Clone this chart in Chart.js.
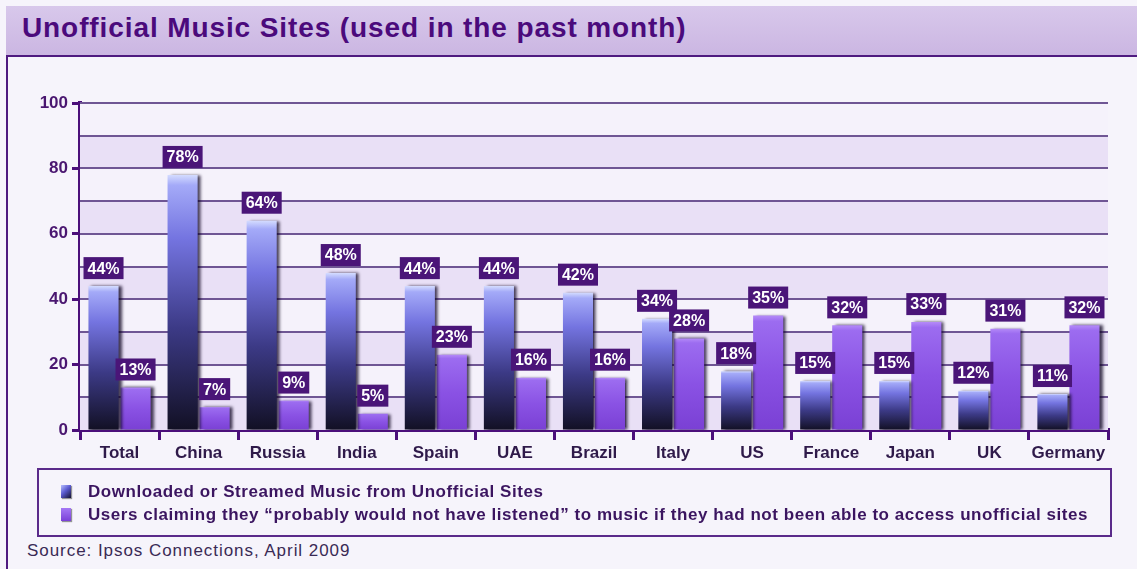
<!DOCTYPE html>
<html>
<head>
<meta charset="utf-8">
<script src="https://cdn.jsdelivr.net/npm/chart.js@4.4.0/dist/chart.umd.min.js"></script>
<style>
  html,body{margin:0;padding:0;}
  body{width:1137px;height:569px;position:relative;overflow:hidden;background:#f6f4fb;font-family:"Liberation Sans",Arial,sans-serif;}
  #titleBand{position:absolute;left:6px;top:6px;width:1131px;height:49px;background:linear-gradient(#d8c8eb,#cbb6e2);border-bottom:2px solid #4f1a80;}
  #title{position:absolute;left:22px;top:12px;font-size:28px;letter-spacing:0.9px;font-weight:bold;color:#4b0a7c;white-space:nowrap;}
  #leftBorder{position:absolute;left:6px;top:55px;width:2px;height:514px;background:#4f1a80;}
  #chartWrap{position:absolute;left:0;top:80px;width:1137px;height:390px;}
  #legend{position:absolute;left:37px;top:468px;width:1071px;height:65px;border:2px solid #5a2a8a;box-sizing:content-box;}
  .li{position:absolute;left:49px;font-size:17px;letter-spacing:0.55px;font-weight:bold;color:#3b1560;white-space:nowrap;}
  .sw{position:absolute;left:-27px;top:3px;width:10px;height:13px;box-shadow:1px 1px 1px rgba(0,0,0,0.4);}
  #source{position:absolute;left:27px;top:541px;font-size:17px;letter-spacing:0.95px;color:#3a2a55;white-space:nowrap;}
</style>
</head>
<body>
<div id="titleBand"></div>
<div id="title">Unofficial Music Sites (used in the past month)</div>
<div id="leftBorder"></div>
<div id="chartWrap"><canvas id="c" width="1137" height="390"></canvas></div>
<div id="legend">
  <div class="li" id="l1" style="top:12px"><span class="sw" style="background:linear-gradient(135deg,#b8c0ff 0%,#5a5ad0 45%,#141230 100%)"></span>Downloaded or Streamed Music from Unofficial Sites</div>
  <div class="li" id="l2" style="top:35px"><span class="sw" style="background:linear-gradient(#a578f5,#7a40d8)"></span>Users claiming they “probably would not have listened” to music if they had not been able to access unofficial sites</div>
</div>
<div id="source">Source: Ipsos Connections, April 2009</div>
<script>
const categories = ["Total","China","Russia","India","Spain","UAE","Brazil","Italy","US","France","Japan","UK","Germany"];
const downloaded = [44,78,64,48,44,44,42,34,18,15,15,12,11];
const wouldNotListen = [13,7,9,5,23,16,16,28,35,32,33,31,32];
const seriesNames = ["Downloaded or Streamed Music from Unofficial Sites","Users claiming they “probably would not have listened” to music if they had not been able to access unofficial sites"];
const yMax = 100;

function barGradient(ctx, stops){
  const chart = ctx.chart;
  if(!chart.chartArea) return stops[stops.length-1][1];
  const y = chart.scales.y;
  const v = ctx.raw;
  const top = y.getPixelForValue(v), bot = y.getPixelForValue(0);
  const g = chart.ctx.createLinearGradient(0, top, 0, bot);
  stops.forEach(s=>g.addColorStop(s[0], s[1]));
  return g;
}
const darkStops = [[0,'#d4dcff'],[0.04,'#a4aaf8'],[0.25,'#7474e0'],[0.6,'#3c3a86'],[1,'#121024']];
const purpStops = [[0,'#b48af8'],[0.05,'#9c6cf0'],[0.5,'#8a52e4'],[1,'#7a40d4']];

const bandsPlugin = {
  id:'bands',
  beforeDatasetsDraw(chart){
    const {ctx, chartArea:a, scales:{y}} = chart;
    ctx.save();
    for(let v=0; v<yMax; v+=10){
      const t = y.getPixelForValue(v+10), b = y.getPixelForValue(v);
      ctx.fillStyle = (v/10)%2===0 ? '#e9e0f6' : '#f5f2fb';
      ctx.fillRect(a.left, t, a.right-a.left, b-t);
    }
    ctx.strokeStyle = '#6f5694';
    ctx.lineWidth = 2;
    for(let v=10; v<=yMax; v+=10){
      const p = Math.round(y.getPixelForValue(v));
      ctx.beginPath(); ctx.moveTo(a.left, p); ctx.lineTo(a.right, p); ctx.stroke();
    }
    ctx.restore();
  }
};
const shadowPlugin = {
  id:'shadow',
  beforeDatasetsDraw(chart){
    const ctx = chart.ctx; ctx.save();
    ctx.shadowColor='rgba(10,0,30,0.75)'; ctx.shadowOffsetX=3; ctx.shadowOffsetY=0; ctx.shadowBlur=3;
  },
  afterDatasetsDraw(chart){ chart.ctx.restore(); }
};
const labelPlugin = {
  id:'boxLabels',
  afterDatasetsDraw(chart){
    const ctx = chart.ctx;
    ctx.save();
    ctx.font = 'bold 16px "Liberation Sans", Arial, sans-serif';
    ctx.textAlign='center'; ctx.textBaseline='middle';
    chart.data.datasets.forEach((ds, di)=>{
      const meta = chart.getDatasetMeta(di);
      meta.data.forEach((el, i)=>{
        const txt = ds.data[i] + '%';
        const w = ctx.measureText(txt).width + 8, h = 22;
        const bx = el.x - w/2, by = el.y - 7 - h;
        ctx.fillStyle = '#4a1578';
        ctx.fillRect(bx, by, w, h);
        ctx.fillStyle = '#ffffff';
        ctx.fillText(txt, el.x, by + h/2 + 1);
      });
    });
    ctx.restore();
  }
};

new Chart(document.getElementById('c'), {
  type:'bar',
  data:{
    labels:categories,
    datasets:[
      {label:seriesNames[0], data:downloaded, backgroundColor:(c)=>barGradient(c,darkStops), borderWidth:0},
      {label:seriesNames[1], data:wouldNotListen, backgroundColor:(c)=>barGradient(c,purpStops), borderWidth:0}
    ]
  },
  options:{
    responsive:false, animation:false,
    datasets:{bar:{categoryPercentage:0.81, barPercentage:0.94}},
    layout:{padding:{left:0,right:29,top:23,bottom:0}},
    plugins:{legend:{display:false}, tooltip:{enabled:false}},
    scales:{
      x:{
        afterFit(s){ s.height = 40; },
        grid:{drawOnChartArea:false, drawTicks:true, tickLength:10, color:'#4b0f7a', lineWidth:3, offset:true},
        border:{display:true, color:'#4b0f7a', width:4},
        ticks:{color:'#2f1a4a', font:{family:'"Liberation Sans", Arial, sans-serif', size:17, weight:'bold'}, padding:3, maxRotation:0, autoSkip:false}
      },
      y:{
        min:0, max:yMax,
        afterFit(s){ s.width = 80; },
        grid:{drawOnChartArea:false, drawTicks:true, tickLength:8, tickWidth:3,
              tickColor:(c)=> (c.tick && c.tick.value%20===0) ? '#4b0f7a' : 'rgba(0,0,0,0)'},
        border:{display:true, color:'#4b0f7a', width:4},
        ticks:{stepSize:10, color:'#4a1670', padding:4, font:{family:'"Liberation Sans", Arial, sans-serif', size:17, weight:'bold'},
               callback:(v)=> v%20===0 ? v : ''}
      }
    }
  },
  plugins:[bandsPlugin, shadowPlugin, labelPlugin]
});
</script>
</body>
</html>
